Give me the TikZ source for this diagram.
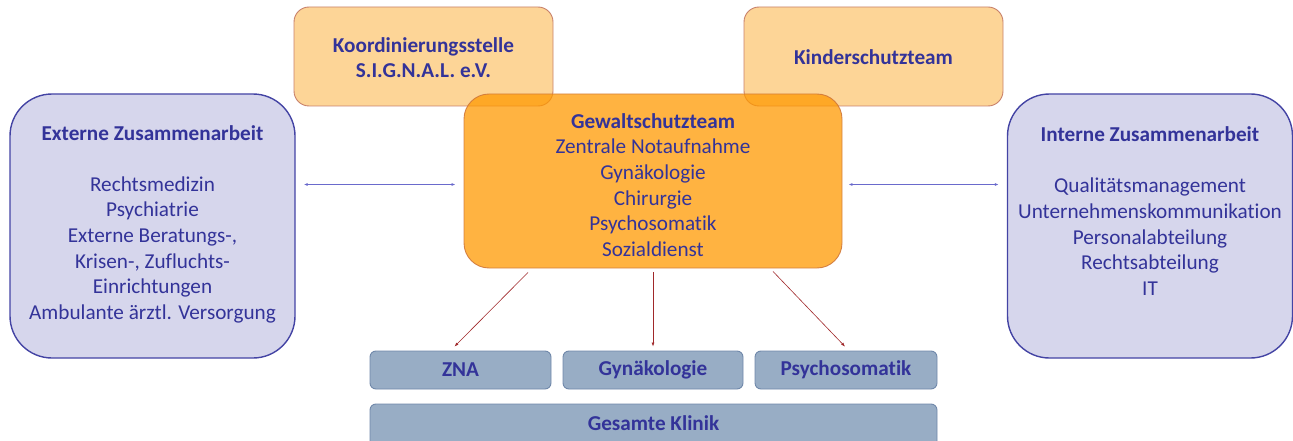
\documentclass[tikz,border=0pt]{standalone}
\usepackage{fontspec}
\setmainfont{Carlito}[Ligatures=CommonOff]
\usetikzlibrary{arrows.meta}
\definecolor{txt}{HTML}{333399}
\definecolor{topfill}{HTML}{FDD597}
\definecolor{topdraw}{HTML}{C8806A}
\definecolor{gsfill}{HTML}{FF9900}
\definecolor{gsdraw}{HTML}{D0783A}
\definecolor{sidefill}{HTML}{D6D6EC}
\definecolor{sidedraw}{HTML}{4444A4}
\definecolor{botfill}{HTML}{98ADC5}
\definecolor{botdraw}{HTML}{7088AA}
\definecolor{redarrow}{HTML}{A0282A}
\definecolor{bluearrow}{HTML}{6A6ACC}
\tikzset{
  topbox/.style={draw=topdraw, line width=0.9pt, fill=topfill, rounded corners=15pt, minimum width=259pt, minimum height=99pt, inner sep=0pt},
  gsbox/.style={draw=gsdraw, line width=0.9pt, fill=gsfill, fill opacity=0.745, draw opacity=0.9, text opacity=1, rounded corners=25pt, minimum width=378pt, minimum height=174pt, inner sep=0pt},
  sidebox/.style={draw=sidedraw, line width=1.4pt, fill=sidefill, rounded corners=42pt, minimum width=285pt, minimum height=264pt, inner sep=0pt},
  botbox/.style={draw=botdraw, line width=0.9pt, fill=botfill, rounded corners=6pt, minimum height=38pt, inner sep=0pt},
  lbl/.style={text=txt, align=center, font=\fontsize{21.2}{25.6}\selectfont},
  blbl/.style={text=txt, align=center, font=\fontsize{21.2}{25.6}\selectfont\bfseries},
  downarrow/.style={draw=redarrow, line width=0.6pt, -{Latex[length=4pt,width=3pt]}},
  sidearrow/.style={draw=bluearrow, line width=0.8pt, {Latex[length=4pt,width=3pt]}-{Latex[length=4pt,width=3pt]}}
}
\begin{document}
\begin{tikzpicture}[x=1pt,y=-1pt]
\useasboundingbox (0,0) rectangle (1293,441);
% top boxes
\node[topbox] (koord) at (423.5,56.5) {};
\node[blbl] (koordt) at (423.5,57.5) {Koordinierungsstelle\\S.I.G.N.A.L. e.V.};
\node[topbox] (kinder) at (873.5,56.5) {};
\node[blbl] (kindert) at (873.5,57) {Kinderschutzteam};
% central box
\node[gsbox] (gs) at (653,181) {};
\node[lbl] (gst) at (653,185) {\textbf{Gewaltschutzteam}\\Zentrale Notaufnahme\\Gynäkologie\\Chirurgie\\Psychosomatik\\Sozialdienst};
% side boxes
\node[sidebox] (ext) at (152.5,226) {};
\node[lbl] (extt) at (152.5,224) {\textbf{Externe Zusammenarbeit}\\[25.6pt]Rechtsmedizin\\Psychiatrie\\Externe Beratungs-,\\Krisen-, Zufluchts-\\Einrichtungen\\Ambulante ärztl. Versorgung};
\node[sidebox] (int) at (1150,226) {};
\node[lbl] (intt) at (1150,211) {\textbf{Interne Zusammenarbeit}\\[25.6pt]Qualitätsmanagement\\Unternehmenskommunikation\\Personalabteilung\\Rechtsabteilung\\IT};
% bottom boxes
\node[botbox, minimum width=181pt] (zna) at (460.5,370) {};
\node[blbl] (znat) at (460.5,370) {ZNA};
\node[botbox, minimum width=180pt] (gyn) at (653,370) {};
\node[blbl] (gynt) at (653,370) {Gynäkologie};
\node[botbox, minimum width=182pt] (psy) at (846,370) {};
\node[blbl] (psyt) at (846,370) {Psychosomatik};
\node[botbox, minimum width=567pt, minimum height=48pt] (ges) at (653.5,428) {};
\node[blbl] (gest) at (653.5,423.5) {Gesamte Klinik};
% connector end points
\path (ext.east) ++(8,-41.5) coordinate (l1);
\path (gs.west) ++(-8,3.5) coordinate (l2);
\path (gs.east) ++(6,3.5) coordinate (r1);
\path (int.west) ++(-8,-41.5) coordinate (r2);
% connectors
\draw[sidearrow] (l1) -- (l2);
\draw[sidearrow] (r1) -- (r2);
\draw[downarrow] ([xshift=-125pt,yshift=-4pt]gs.south) -- ([xshift=-6pt,yshift=4pt]zna.north);
\draw[downarrow] ([yshift=-4pt]gs.south) -- ([yshift=4pt]gyn.north);
\draw[downarrow] ([xshift=120pt,yshift=-3pt]gs.south) -- ([xshift=-1pt,yshift=4pt]psy.north);
\end{tikzpicture}
\end{document}
